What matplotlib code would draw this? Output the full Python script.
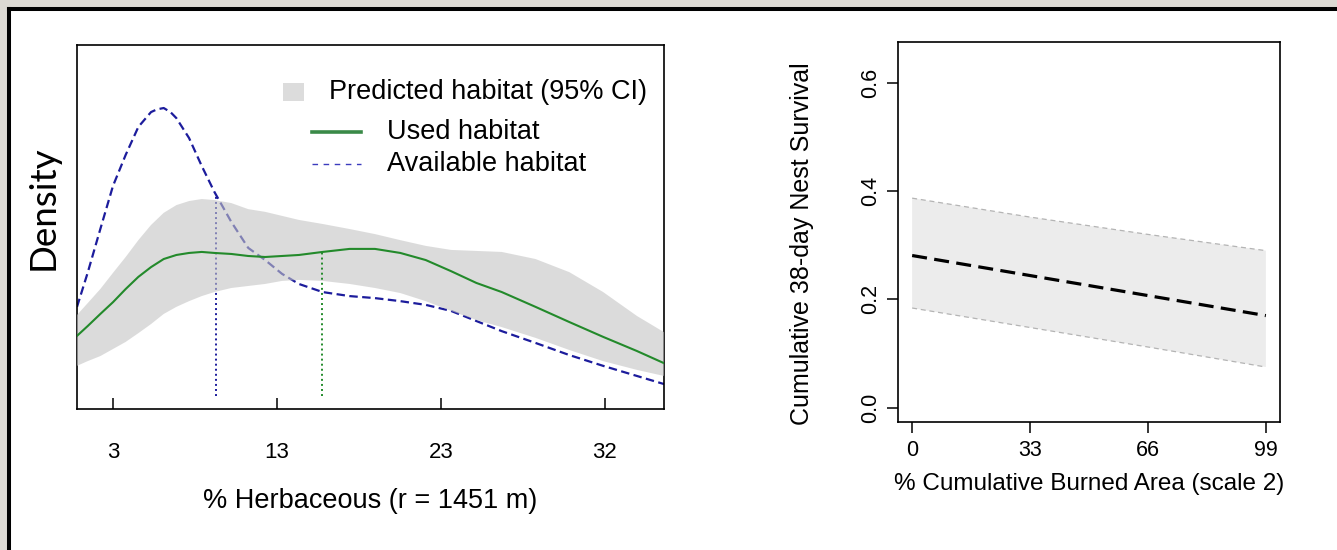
import numpy as np
import matplotlib
matplotlib.use('Agg')
import matplotlib.pyplot as plt
from matplotlib.patches import Rectangle
from matplotlib.lines import Line2D

# Left panel: density curves along % herbaceous (density in 1e-3 units)
herb_x = [0.87, 1.5, 2.25, 3, 3.75, 4.5, 5.25, 6, 6.75, 7.5, 8.25, 9, 10, 11, 12,
          13, 14, 15.4, 17, 18.5, 20, 21.5, 23, 24.5, 26, 28, 30, 32, 34, 35.6]
used = [17.7, 20.6, 24.2, 27.7, 31.6, 35.2, 38.1, 40.5, 41.7, 42.3, 42.6, 42.3, 42.0, 41.4, 41.1,
        41.4, 41.7, 42.6, 43.5, 43.5, 42.3, 40.2, 36.9, 33.4, 30.7, 26.3, 21.8, 17.4, 13.2, 9.6]
pred_hi = [23.9, 27.4, 31.6, 36.4, 41.1, 46.1, 50.6, 54.2, 56.5, 57.7, 58.3, 58.0, 57.1, 55.3, 54.5,
           53.3, 52.1, 50.9, 49.4, 47.9, 46.1, 44.4, 43.2, 42.9, 42.6, 40.5, 36.6, 30.7, 23.6, 18.8]
pred_lo = [8.8, 10.2, 11.7, 13.8, 15.9, 18.5, 21.2, 24.2, 26.3, 28.0, 29.5, 30.7, 31.9, 32.5, 33.1,
           34.0, 34.3, 34.0, 33.1, 31.9, 30.4, 28.0, 25.1, 22.4, 20.3, 17.1, 13.5, 10.2, 7.6, 5.8]
avail_x = [0.87, 1.5, 2.25, 3, 3.75, 4.5, 5.25, 5.6, 6, 6.4, 6.75, 7.5, 8.25, 9, 10, 11, 12,
           13, 14, 15.4, 17, 18.5, 20, 21.5, 23, 24.5, 26, 28, 30, 32, 34, 35.6]
avail = [26.3, 36.4, 49.4, 62.2, 71.4, 79.7, 84.1, 84.9, 85.3, 84.1, 82.3, 76.4, 68.1, 60.4, 51.5,
         43.8, 40.2, 36.1, 33.1, 30.7, 29.5, 28.9, 28.0, 26.9, 25.1, 22.1, 19.1, 15.6, 12.0, 8.8,
         5.8, 3.4]
avail_median, avail_median_h = 9.12, 59.5
used_median, used_median_h = 15.35, 42.6
herb_ticks = [3, 12.7, 22.4, 32.1]
herb_labels = ['3', '13', '23', '32']

# Right panel: nest survival vs burned area
burn_x = [0, 33, 66, 99]
surv_mean = [0.281, 0.244, 0.207, 0.170]
surv_hi = [0.387, 0.352, 0.320, 0.290]
surv_lo = [0.184, 0.148, 0.112, 0.075]
surv_ticks = [0.0, 0.2, 0.4, 0.6]

blue = '#1c1c9c'
green = '#238a2b'
plt.rcParams['font.family'] = ['Liberation Sans', 'DejaVu Sans']

fig = plt.figure(figsize=(13.37, 5.5), dpi=100)
fig.patch.set_facecolor('#dcd9d3')
# white slide panel with black top/left border
x0, y_top = 9 / 1337, 1 - 9 / 550
fig.patches.append(Rectangle((x0, 0), 1 - x0, y_top, transform=fig.transFigure,
                             facecolor='white', edgecolor='none', zorder=-5))
fig.lines.append(Line2D([x0, 1], [y_top, y_top], transform=fig.transFigure,
                        color='black', lw=2.9, solid_capstyle='projecting', zorder=-4))
fig.lines.append(Line2D([x0, x0], [0, y_top], transform=fig.transFigure,
                        color='black', lw=2.9, solid_capstyle='projecting', zorder=-4))

# ---- left panel
ax1 = fig.add_axes([77 / 1337, 1 - 409 / 550, 587 / 1337, 364 / 550])
ax1.set_zorder(2)
ax1.plot(avail_x, avail, color=blue, lw=1.6, dashes=(3.8, 2), zorder=2)
ax1.plot([avail_median, avail_median], [0, avail_median_h], color=blue, lw=1.4,
         linestyle=(0, (1, 1.6)), zorder=2)
ax1.fill_between(herb_x, pred_lo, pred_hi, facecolor='#c4c4c4', alpha=0.6, lw=0, zorder=3)
ax1.plot(herb_x, used, color=green, lw=1.5, zorder=4)
ax1.plot([used_median, used_median], [0, used_median_h], color=green, lw=1.4,
         linestyle=(0, (1, 1.6)), zorder=4)
ax1.set_xlim(herb_x[0], herb_x[-1])
ax1.set_ylim(-4, 104)
ax1.set_yticks([])
ax1.set_xticks(herb_ticks)
ax1.set_xticklabels(herb_labels)
ax1.tick_params(axis='x', direction='in', length=8, width=1.1, pad=24, labelsize=16)
for s in ax1.spines.values():
    s.set_linewidth(1.2)
ax1.set_xlabel('% Herbaceous (r = 1451 m)', fontsize=19.5)
ax1.xaxis.set_label_coords(0.5, -0.217)

# legend (drawn by hand to mimic the R layout)
ax1.add_patch(Rectangle((0.351, 0.846), 0.036, 0.05, transform=ax1.transAxes,
                        facecolor='#dcdcdc', edgecolor='none', zorder=5))
ax1.text(0.429, 0.871, 'Predicted habitat (95% CI)', transform=ax1.transAxes,
         fontsize=19.5, va='center', ha='left')
ax1.plot([0.400, 0.484], [0.761, 0.761], transform=ax1.transAxes, color='#3a8a48', lw=2.6)
ax1.text(0.528, 0.761, 'Used habitat', transform=ax1.transAxes,
         fontsize=19.5, va='center', ha='left')
ax1.plot([0.400, 0.484], [0.673, 0.673], transform=ax1.transAxes, color='#3b3bbd', lw=1.0,
         dashes=(4, 4))
ax1.text(0.528, 0.673, 'Available habitat', transform=ax1.transAxes,
         fontsize=19.5, va='center', ha='left')

fig.text(43 / 1337, 1 - 208 / 550, 'Density', rotation=90, ha='center', va='center',
         fontsize=26.5, family=['Lato', 'DejaVu Sans'])

# ---- right panel
ax2 = fig.add_axes([898 / 1337, 1 - 421.7 / 550, 382 / 1337, 380 / 550])
ax2.set_zorder(2)
ax2.fill_between(burn_x, surv_lo, surv_hi, facecolor='#ececec', lw=0, zorder=1)
ax2.plot(burn_x, surv_hi, color='#b4b4b4', lw=0.9, dashes=(4, 3), zorder=2)
ax2.plot(burn_x, surv_lo, color='#b4b4b4', lw=0.9, dashes=(4, 3), zorder=2)
ax2.plot(burn_x, surv_mean, color='black', lw=2.3, dashes=(4.7, 2.3), zorder=3)
ax2.set_xlim(-3.96, 102.96)
ax2.set_ylim(-0.026, 0.676)
ax2.set_xticks(burn_x)
ax2.set_yticks(surv_ticks)
ax2.set_yticklabels(['0.0', '0.2', '0.4', '0.6'], rotation=90, va='center')
ax2.tick_params(direction='out', length=8, width=1.1, labelsize=15.5)
ax2.tick_params(axis='x', pad=5)
ax2.tick_params(axis='y', pad=4)
for s in ax2.spines.values():
    s.set_linewidth(1.2)
ax2.set_xlabel('% Cumulative Burned Area (scale 2)', fontsize=17.5)
ax2.xaxis.set_label_coords(0.5, -0.135)
ax2.set_ylabel('Cumulative 38-day Nest Survival', fontsize=18)
ax2.yaxis.set_label_coords(-0.22, 0.468)

fig.savefig('out.png', dpi=100, facecolor=fig.get_facecolor())
